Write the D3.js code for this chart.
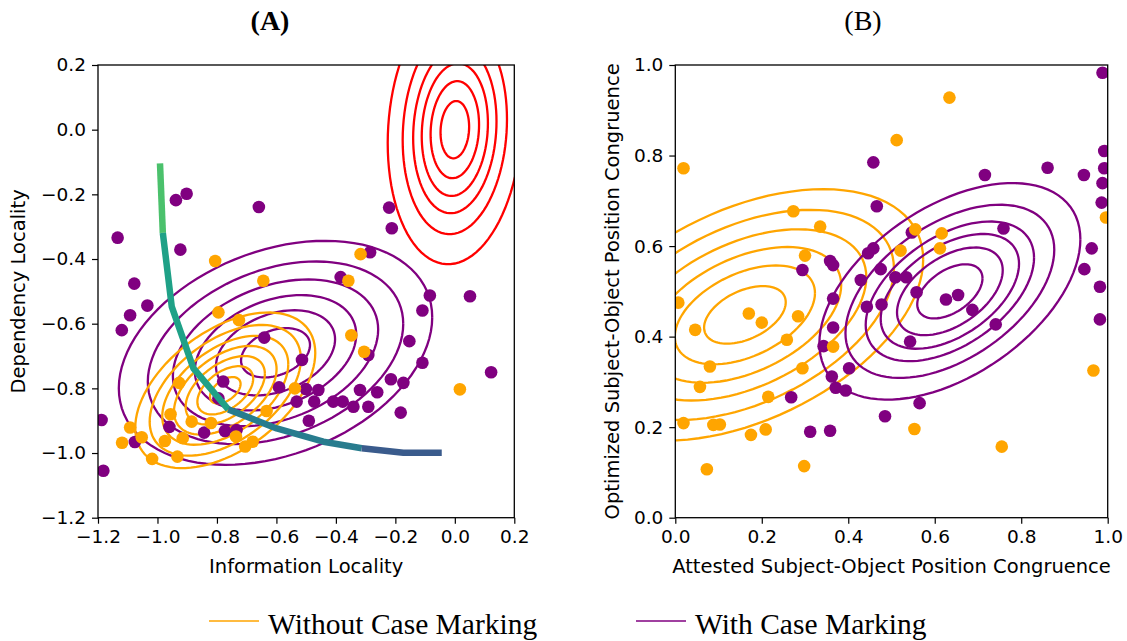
<!DOCTYPE html>
<html><head><meta charset="utf-8">
<script src="https://cdn.jsdelivr.net/npm/d3@7"></script>
<style>body{margin:0;background:#fff}</style>
</head><body>
<svg id="chart" width="1127" height="641"></svg>
<script>
// ---------- DATA ----------
const xTicksA = [-1.2,-1.0,-0.8,-0.6,-0.4,-0.2,0.0,0.2];
const yTicksA = [-1.2,-1.0,-0.8,-0.6,-0.4,-0.2,0.0,0.2];
const xTicksB = [0.0,0.2,0.4,0.6,0.8,1.0];
const yTicksB = [0.0,0.2,0.4,0.6,0.8,1.0];

// Panel A scatter (Information Locality, Dependency Locality)
const withCaseA_x = [-0.938,-0.902,-0.659,-1.134,-0.923,-1.078,-1.034,-1.092,-1.120,-0.221,-0.212,-0.285,-0.384,-0.084,0.051,-0.109,-0.641,-0.153,-0.291,-0.514,-0.109,0.122,-0.779,-0.795,-0.591,-0.501,-0.459,-0.215,-0.173,-0.319,-0.261,-0.532,-0.473,-0.409,-0.377,-0.341,-0.291,-0.182,-0.491,-1.188,-0.960,-1.076,-0.843,-0.773,-0.734,-1.182];
const withCaseA_y = [-0.218,-0.198,-0.239,-0.334,-0.371,-0.476,-0.544,-0.574,-0.620,-0.241,-0.305,-0.379,-0.456,-0.513,-0.515,-0.559,-0.643,-0.654,-0.697,-0.712,-0.721,-0.750,-0.779,-0.831,-0.797,-0.802,-0.805,-0.772,-0.783,-0.805,-0.812,-0.841,-0.841,-0.841,-0.841,-0.857,-0.857,-0.875,-0.900,-0.898,-0.919,-0.966,-0.937,-0.932,-0.929,-1.055];
const withoutCaseA_x = [-0.806,-0.644,-0.317,-0.358,-0.795,-0.726,-0.348,-0.305,0.017,-0.927,-0.956,-0.885,-1.092,-1.119,-1.053,-0.975,-0.915,-1.018,-0.933,-0.633,-0.538,-0.705,-0.680,-0.736,-0.820];
const withoutCaseA_y = [-0.406,-0.467,-0.385,-0.467,-0.565,-0.589,-0.636,-0.687,-0.803,-0.783,-0.880,-0.903,-0.921,-0.968,-0.951,-0.963,-0.954,-1.018,-1.011,-0.870,-0.800,-0.980,-0.965,-0.949,-0.907];

// Panel A frontier curve
const frontier_x = [-0.9915,-0.982,-0.952,-0.879,-0.762,-0.599,-0.442,-0.313,-0.173,-0.044];
const frontier_y = [-0.104,-0.319,-0.547,-0.738,-0.865,-0.924,-0.965,-0.985,-0.999,-0.999];
const frontier_groups = [[0,1],[1,4],[4,7],[7,9]];
const frontier_colors = ["#4bc16c","#1fa187","#287c8e","#3a5b8c"];

// Panel B scatter (Attested, Optimized congruence)
const withCaseB_x = [0.988,0.458,0.716,0.861,0.945,0.992,0.992,0.988,0.986,0.466,0.547,0.759,0.446,0.458,0.963,0.946,0.294,0.358,0.365,0.475,0.429,0.509,0.534,0.558,0.365,0.443,0.477,0.626,0.654,0.687,0.741,0.982,0.982,0.365,0.543,0.343,0.402,0.362,0.371,0.394,0.268,0.565,0.485,0.312,0.358];
const withCaseB_y = [0.983,0.785,0.757,0.773,0.757,0.810,0.772,0.739,0.696,0.688,0.630,0.639,0.584,0.595,0.595,0.549,0.547,0.567,0.558,0.549,0.525,0.531,0.531,0.498,0.484,0.466,0.471,0.482,0.492,0.459,0.427,0.510,0.438,0.420,0.389,0.379,0.330,0.312,0.287,0.281,0.266,0.253,0.224,0.190,0.192];
const withoutCaseB_x = [0.019,0.634,0.512,0.273,0.335,0.555,0.616,0.612,0.521,0.300,0.007,0.170,0.200,0.046,0.284,0.258,0.365,0.080,0.294,0.057,0.215,0.019,0.088,0.103,0.175,0.209,0.073,0.298,0.553,0.755,0.967,0.996];
const withoutCaseB_y = [0.772,0.928,0.834,0.677,0.643,0.637,0.628,0.595,0.590,0.579,0.475,0.451,0.431,0.415,0.445,0.393,0.378,0.334,0.330,0.289,0.267,0.209,0.205,0.206,0.183,0.195,0.107,0.114,0.196,0.157,0.325,0.663];

// Density contour rings: centre, spread, correlation, ring sizes (relative to outermost)
const ringsRedA    = {cx:0.0,   cy:0.0,   sx:0.2257, sy:0.416,  rho:0.10,  s:[0.213,0.361,0.493,0.621,0.777,1.0]};
const ringsPurpleA = {cx:-0.603,cy:-0.690,sx:0.527,  sy:0.3464, rho:0.3165,s:[0.22,0.38,0.515,0.655,0.815,1.0]};
const ringsOrangeA = {cx:-0.772,cy:-0.806,sx:0.3027, sy:0.2406, rho:0.48,  s:[0.17,0.31,0.44,0.57,0.70,0.84,1.0]};
const ringsPurpleB = {cx:0.635, cy:0.50,  sx:0.3018, sy:0.2392, rho:0.48,  s:[0.25,0.405,0.53,0.645,0.80,1.0]};
const ringsOrangeB = {cx:0.161, cy:0.448, sx:0.4123, sy:0.2777, rho:0.44,  s:[0.229,0.393,0.54,0.681,0.836,1.0]};

const legendLabels = ["Without Case Marking","With Case Marking"];

// ---------- DRAW ----------
const PURPLE="#800080", ORANGE="#ffa500", RED="#ff0000";
const svg = d3.select("#chart");
const A = {l:98,r:514.3,t:65,b:517.7};
const B = {l:675.3,r:1107.7,t:65,b:517.7};
const xA = d3.scaleLinear().domain([-1.2,0.2]).range([A.l,A.r]);
const yA = d3.scaleLinear().domain([-1.2,0.2]).range([A.b,A.t]);
const xB = d3.scaleLinear().domain([0,1]).range([B.l,B.r]);
const yB = d3.scaleLinear().domain([0,1]).range([B.b,B.t]);
const fmt = d3.format(".1f");
const tickFont = "DejaVu Sans, sans-serif";

function clip(id, P){
  svg.append("clipPath").attr("id",id).append("rect")
    .attr("x",P.l).attr("y",P.t).attr("width",P.r-P.l).attr("height",P.b-P.t);
}
clip("clipA",A); clip("clipB",B);

function ellipse(c, s){
  const n=96, q=Math.sqrt(1-c.rho*c.rho);
  return d3.range(n+1).map(i=>{const t=2*Math.PI*i/n;
    return [c.cx+s*c.sx*Math.cos(t), c.cy+s*c.sy*(c.rho*Math.cos(t)+q*Math.sin(t))];});
}
function drawRings(g, c, color, xs, ys){
  const line = d3.line().x(d=>xs(d[0])).y(d=>ys(d[1]));
  g.selectAll(null).data(c.s).enter().append("path")
    .attr("d", s=>line(ellipse(c,s)))
    .attr("fill","none").attr("stroke",color).attr("stroke-width",2.3);
}
function drawDots(g, xsArr, ysArr, color, xs, ys){
  g.selectAll(null).data(d3.range(xsArr.length)).enter().append("circle")
    .attr("cx",i=>xs(xsArr[i])).attr("cy",i=>ys(ysArr[i])).attr("r",6.3).attr("fill",color);
}
function axes(P, xs, ys, xt, yt){
  const gx = svg.append("g").attr("transform",`translate(0,${P.b})`)
    .call(d3.axisBottom(xs).tickValues(xt).tickSize(6).tickPadding(6).tickFormat(fmt));
  const gy = svg.append("g").attr("transform",`translate(${P.l},0)`)
    .call(d3.axisLeft(ys).tickValues(yt).tickSize(6).tickPadding(6).tickFormat(fmt));
  [gx,gy].forEach(g=>{g.select(".domain").remove();
    g.selectAll("text").attr("font-family",tickFont).attr("font-size",18.5).attr("fill","#000");
    g.selectAll("line").attr("stroke","#000").attr("stroke-width",1.2);});
  svg.append("rect").attr("x",P.l).attr("y",P.t).attr("width",P.r-P.l).attr("height",P.b-P.t)
    .attr("fill","none").attr("stroke","#000").attr("stroke-width",1.3);
}

// Panel A
const gA = svg.append("g").attr("clip-path","url(#clipA)");
drawRings(gA, ringsRedA, RED, xA, yA);
drawRings(gA, ringsPurpleA, PURPLE, xA, yA);
drawRings(gA, ringsOrangeA, ORANGE, xA, yA);
drawDots(gA, withCaseA_x, withCaseA_y, PURPLE, xA, yA);
drawDots(gA, withoutCaseA_x, withoutCaseA_y, ORANGE, xA, yA);
const fl = d3.line().x(i=>xA(frontier_x[i])).y(i=>yA(frontier_y[i]));
frontier_groups.forEach((gr,k)=>{
  gA.append("path").attr("d", fl(d3.range(gr[0],gr[1]+1)))
    .attr("fill","none").attr("stroke",frontier_colors[k]).attr("stroke-width",6.5)
    .attr("stroke-linejoin","round");
});
axes(A, xA, yA, xTicksA, yTicksA);

// Panel B
const gB = svg.append("g").attr("clip-path","url(#clipB)");
drawRings(gB, ringsOrangeB, ORANGE, xB, yB);
drawRings(gB, ringsPurpleB, PURPLE, xB, yB);
drawDots(gB, withCaseB_x, withCaseB_y, PURPLE, xB, yB);
drawDots(gB, withoutCaseB_x, withoutCaseB_y, ORANGE, xB, yB);
axes(B, xB, yB, xTicksB, yTicksB);

// Titles and labels
const serif = "Liberation Serif, Times New Roman, serif";
svg.append("text").attr("x",270).attr("y",30).attr("text-anchor","middle")
  .attr("font-family",serif).attr("font-weight","bold").attr("font-size",28).text("(A)");
svg.append("text").attr("x",863).attr("y",30).attr("text-anchor","middle")
  .attr("font-family",serif).attr("font-size",28).text("(B)");
function lab(x,y,t,rot){
  const el = svg.append("text").attr("text-anchor","middle").attr("font-family",tickFont)
    .attr("font-size",19.5).attr("fill","#000").text(t);
  if(rot) el.attr("transform",`translate(${x},${y}) rotate(-90)`); else el.attr("x",x).attr("y",y);
}
lab((A.l+A.r)/2, 573, "Information Locality");
lab((B.l+B.r)/2, 573, "Attested Subject-Object Position Congruence");
lab(25, (A.t+A.b)/2, "Dependency Locality", true);
lab(619, (B.t+B.b)/2, "Optimized Subject-Object Position Congruence", true);

// Legend
const legX = [209, 636], legC = [ORANGE, PURPLE];
legendLabels.forEach((t,i)=>{
  svg.append("line").attr("x1",legX[i]).attr("x2",legX[i]+50).attr("y1",621).attr("y2",621)
    .attr("stroke",legC[i]).attr("stroke-width",1.5);
  svg.append("text").attr("x",legX[i]+59).attr("y",634).attr("font-family",serif)
    .attr("font-size",29.5).attr("fill","#000").text(t);
});
</script>
</body></html>
